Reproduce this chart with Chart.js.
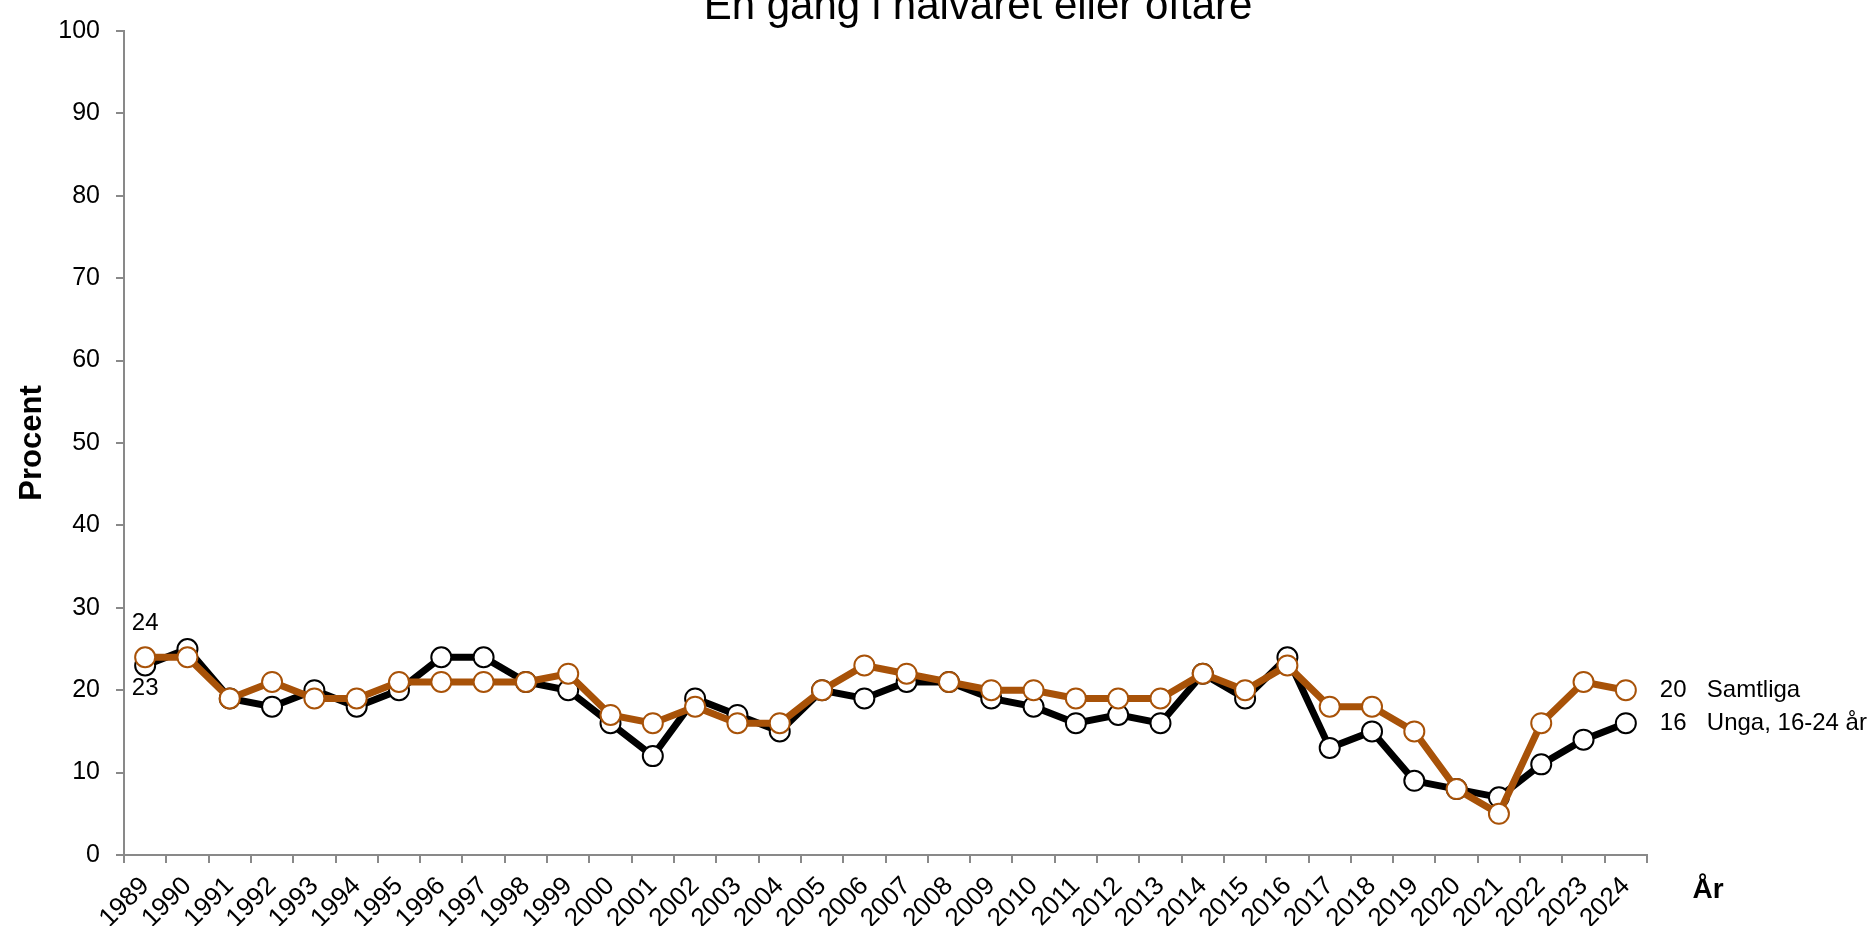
<!DOCTYPE html>
<html>
<head>
<meta charset="utf-8">
<script src="https://cdn.jsdelivr.net/npm/chart.js@4"></script>
<style>
  html, body { margin: 0; padding: 0; background: #fff; }
  canvas { display: block; }
</style>
</head>
<body>
<canvas id="chart" width="1870" height="926"></canvas>
<script>
// data
const years = ['1989','1990','1991','1992','1993','1994','1995','1996','1997','1998',
  '1999','2000','2001','2002','2003','2004','2005','2006','2007','2008','2009','2010',
  '2011','2012','2013','2014','2015','2016','2017','2018','2019','2020','2021','2022',
  '2023','2024'];
const samtliga = [24,24,19,21,19,19,21,21,21,21,22,17,16,18,16,16,20,23,22,21,20,20,
  19,19,19,22,20,23,18,18,15,8,5,16,21,20];
const unga = [23,25,19,18,20,18,20,24,24,21,20,16,12,19,17,15,20,19,21,21,19,18,
  16,17,16,22,19,24,13,15,9,8,7,11,14,16];

const titleText = 'En gång i halvåret eller oftare';
const yTitle = 'Procent';
const xTitle = 'År';
const seriesNames = ['Samtliga', 'Unga, 16-24 år'];

const ORANGE = '#A85208';
const AXIS = '#898989';
const FONT = '"Liberation Sans", Arial, sans-serif';

Chart.defaults.font.family = FONT;
Chart.defaults.color = '#000';

// texts drawn around the plot
const textPlugin = {
  id: 'texts',
  afterDraw(chart) {
    const ctx = chart.ctx;
    const xs = chart.scales.x, ys = chart.scales.y;
    ctx.save();
    ctx.fillStyle = '#000';

    // title (cut at the top like the original)
    ctx.font = '42px ' + FONT;
    ctx.textAlign = 'center';
    ctx.textBaseline = 'alphabetic';
    ctx.fillText(titleText, 978, 19);

    // y axis title
    ctx.save();
    ctx.translate(41, (ys.top + ys.bottom) / 2);
    ctx.rotate(-Math.PI / 2);
    ctx.font = 'bold 31px ' + FONT;
    ctx.fillText(yTitle, 0, 0);
    ctx.restore();

    // x axis title
    ctx.font = 'bold 28px ' + FONT;
    ctx.fillText(xTitle, 1708, 898);

    // first values
    ctx.font = '24px ' + FONT;
    ctx.textBaseline = 'middle';
    const x0 = xs.getPixelForValue(0);
    ctx.fillText(String(samtliga[0]), x0, ys.getPixelForValue(samtliga[0]) - 34);
    ctx.fillText(String(unga[0]), x0, ys.getPixelForValue(unga[0]) + 23);

    // last values + series names
    const n = years.length - 1;
    const xl = xs.getPixelForValue(n);
    ctx.textAlign = 'left';
    [[samtliga, seriesNames[0]], [unga, seriesNames[1]]].forEach(([arr, name]) => {
      const y = ys.getPixelForValue(arr[n]);
      ctx.fillText(String(arr[n]), xl + 34, y);
      ctx.fillText(name, xl + 81, y);
    });
    ctx.restore();
  }
};

new Chart(document.getElementById('chart'), {
  type: 'line',
  data: {
    labels: years,
    datasets: [
      {
        label: seriesNames[0],
        data: samtliga,
        borderColor: ORANGE,
        borderWidth: 7,
        pointRadius: 10,
        pointBorderWidth: 2,
        pointBackgroundColor: '#fff',
        pointBorderColor: ORANGE,
        tension: 0
      },
      {
        label: seriesNames[1],
        data: unga,
        borderColor: '#000',
        borderWidth: 7,
        pointRadius: 10,
        pointBorderWidth: 2,
        pointBackgroundColor: '#fff',
        pointBorderColor: '#000',
        tension: 0
      }
    ]
  },
  options: {
    responsive: false,
    animation: false,
    layout: { padding: { top: 25, right: 223, left: 0, bottom: 0 } },
    plugins: {
      legend: { display: false },
      tooltip: { enabled: false }
    },
    scales: {
      x: {
        type: 'category',
        offset: true,
        grid: {
          offset: true,
          drawOnChartArea: false,
          drawTicks: true,
          tickLength: 8,
          color: AXIS,
          lineWidth: 2
        },
        border: { display: true, color: AXIS, width: 2 },
        ticks: {
          autoSkip: false,
          minRotation: 45,
          maxRotation: 45,
          padding: 8,
          color: '#000',
          font: { size: 26 }
        },
        afterFit(scale) { scale.height = 71; }
      },
      y: {
        min: 0,
        max: 100,
        grid: {
          drawOnChartArea: false,
          drawTicks: true,
          tickLength: 8,
          color: AXIS,
          lineWidth: 2
        },
        border: { display: true, color: AXIS, width: 2 },
        ticks: {
          stepSize: 10,
          padding: 16,
          color: '#000',
          font: { size: 25 }
        },
        afterFit(scale) { scale.width = 124; }
      }
    }
  },
  plugins: [textPlugin]
});
</script>
</body>
</html>
